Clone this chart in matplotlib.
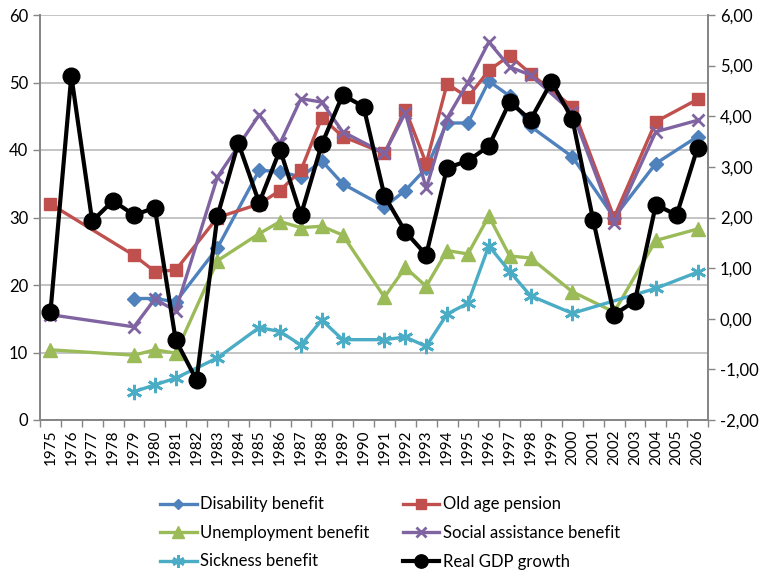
import matplotlib
matplotlib.use("Agg")
import matplotlib.pyplot as plt
import numpy as np

years = list(range(1975, 2007))

# benefit series (left axis); None = no observation that year
disability = [None, None, None, None, 18.0, 18.0, 17.5, None, 25.5, None,
              37.0, 36.8, 36.0, 38.4, 35.0, None, 31.6, 34.0, 37.3, 44.0,
              44.0, 50.2, 48.0, 43.5, None, 39.0, None, 30.0, None, 38.0,
              None, 42.0]
old_age = [32.0, None, None, None, 24.4, 22.0, 22.2, None, 30.0, None,
           32.0, 34.0, 37.0, 44.8, 42.0, None, 39.5, 46.0, 38.0, 49.8,
           47.8, 51.8, 54.0, 51.3, None, 46.4, None, 30.0, None, 44.2,
           None, 47.5]
unemployment = [10.4, None, None, None, 9.6, 10.4, 9.9, None, 23.6, None,
                27.6, 29.4, 28.5, 28.7, 27.4, None, 18.2, 22.6, 19.8, 25.1,
                24.6, 30.2, 24.3, 24.0, None, 19.0, None, 16.0, None, 26.6,
                None, 28.3]
social = [15.6, None, None, None, 13.8, 17.9, 16.2, None, 36.0, None,
          45.2, 41.0, 47.6, 47.1, 42.7, None, 39.5, 45.5, 34.3, 44.7,
          50.0, 56.0, 52.3, 51.1, None, 45.6, None, 29.2, None, 42.7,
          None, 44.4]
sickness = [None, None, None, None, 4.2, 5.2, 6.2, None, 9.2, None,
            13.7, 13.1, 11.1, 14.8, 11.9, None, 11.9, 12.3, 10.9, 15.7,
            17.3, 25.8, 22.0, 18.4, None, 15.8, None, None, None, 19.5,
            None, 21.9]
# real GDP growth (right axis)
gdp = [0.13, 4.80, 1.93, 2.33, 2.05, 2.19, -0.42, -1.21, 2.03, 3.47,
       2.29, 3.34, 2.05, 3.45, 4.42, 4.19, 2.43, 1.72, 1.26, 2.98,
       3.12, 3.41, 4.28, 3.93, 4.68, 3.95, 1.95, 0.08, 0.35, 2.25,
       2.05, 3.38]

series = [
    ("Disability benefit", disability, "#4F81BD", "D", 7),
    ("Old age pension", old_age, "#C0504D", "s", 9),
    ("Unemployment benefit", unemployment, "#9BBB59", "^", 10),
    ("Social assistance benefit", social, "#8064A2", "x", 9),
    ("Sickness benefit", sickness, "#4BACC6", (6, 2, 0), 11),
]

plt.rcParams["font.family"] = ["Lato", "DejaVu Sans"]
fig = plt.figure(figsize=(7.65, 5.76), dpi=100)
ax = fig.add_axes([40 / 765, 1 - 420 / 576, 668 / 765, 405 / 576])
ax2 = ax.twinx()

x = np.arange(len(years))
handles = []
for label, values, color, marker, size in series:
    idx = [i for i, v in enumerate(values) if v is not None]
    vals = [values[i] for i in idx]
    h, = ax.plot(x[idx], vals, color=color, lw=2.4, marker=marker, ms=size,
                 mew=2 if marker in ("x", (6, 2, 0)) else 1, mec=color, mfc=color,
                 label=label, zorder=3)
    handles.append(h)

g, = ax2.plot(x, gdp, color="black", lw=3, marker="o", ms=12,
              label="Real GDP growth", zorder=4)
handles.append(g)

ax.set_xlim(-0.5, len(years) - 0.5)
ax.set_ylim(0, 60)
ax.set_yticks(range(0, 61, 10))
ax2.set_ylim(-2, 6)
ax2.set_yticks(range(-2, 7))
ax2.set_yticklabels(["{:.2f}".format(v).replace(".", ",") for v in range(-2, 7)])

ax.set_xticks(x)
ax.set_xticklabels([str(y) for y in years], rotation=90)
ax.set_xticks(np.arange(-0.5, len(years)), minor=True)
ax.tick_params(axis="x", which="major", length=0, pad=7, labelsize=11)
ax.tick_params(axis="x", which="minor", length=5, width=1, color="#868686")
ax.tick_params(axis="y", length=5, width=1, color="#868686", labelsize=12)
ax2.tick_params(axis="y", length=5, width=1, color="#868686", labelsize=12)

ax.grid(axis="y", color="#BFBFBF", lw=1.3)
ax.set_axisbelow(True)
for a in (ax, ax2):
    a.spines["top"].set_visible(False)
    for s in ("left", "right", "bottom"):
        a.spines[s].set_color("#868686")
        a.spines[s].set_linewidth(1.3)

order = [0, 2, 4, 1, 3, 5]
fig.legend([handles[i] for i in order], [handles[i].get_label() for i in order],
           loc="center", bbox_to_anchor=(390 / 765, 1 - 533 / 576), ncol=2,
           frameon=False, fontsize=12, handlelength=2.2, handletextpad=0.2,
           columnspacing=2.0, labelspacing=0.75, markerscale=0.8)

fig.savefig("out.png", dpi=100)
